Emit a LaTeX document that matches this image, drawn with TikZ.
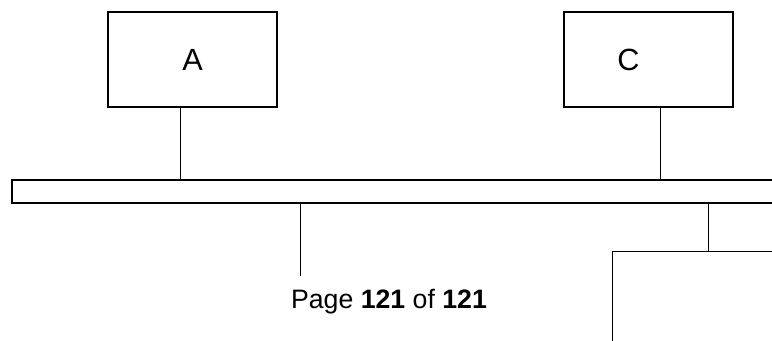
\documentclass[tikz,border=0pt]{standalone}
\usepackage{fontspec}
\setmainfont{Liberation Sans}
\usetikzlibrary{positioning, calc}
\tikzset{
    hostBox/.style={rectangle, draw=black, line width=0.9pt, inner sep=0pt, minimum width=126.75pt, minimum height=71.25pt, font=\fontsize{23}{27}\selectfont},
    hostLabel/.style={inner sep=0pt, font=\fontsize{23}{27}\selectfont},
    busLine/.style={line width=1.1pt, black},
    tapLine/.style={line width=0.8pt, black},
    pageText/.style={inner sep=0pt, font=\fontsize{20}{24}\selectfont}
}

\begin{document}
\begin{tikzpicture}[x=0.75pt, y=-0.75pt]

        % --- Canvas ---
        \useasboundingbox (0,0) rectangle (772,341);

        % --- Coordinates (Bus) ---
        \coordinate (busTR) at (772,180);
        \coordinate (busTL) at (12,180);
        \coordinate (busBL) at (12,203);
        \coordinate (busBR) at (772,203);

        % --- Coordinates (Taps) ---
        \coordinate (tapA) at (180.5,180);
        \coordinate (tapC) at (660.5,180);
        \coordinate (tapB) at (300.5,203);
        \coordinate (endB) at (300.5,276);
        \coordinate (tapD) at (708.5,203);

        % --- Coordinates (Lower box, cut off) ---
        \coordinate (boxDR) at (772,251.5);
        \coordinate (boxDL) at (612.5,251.5);
        \coordinate (boxDB) at (612.5,341);

        % 1. Hosts
        \node[hostBox] (boxA) at (192.5,59.5) {A};
        \node[hostBox] (boxC) at (648.5,59.5) {};
        \node[hostLabel] (labelC) at ($(boxC.center)+(-20,0)$) {C};

        % 2. Bus
        \draw[busLine] (busTR) -- (busTL) -- (busBL) -- (busBR);

        % 3. Taps
        \draw[tapLine] (tapA |- boxA.south) -- (tapA);
        \draw[tapLine] (tapC |- boxC.south) -- (tapC);
        \draw[tapLine] (tapB) -- (endB);
        \draw[tapLine] (tapD) -- (tapD |- boxDL);

        % 4. Lower box
        \draw[busLine] (boxDR) -- (boxDL) -- (boxDB);

        % 5. Page footer
        \node[pageText, anchor=base] (pageNo) at (389,308.3) {Page \textbf{121} of \textbf{121}};

\end{tikzpicture}
\end{document}
